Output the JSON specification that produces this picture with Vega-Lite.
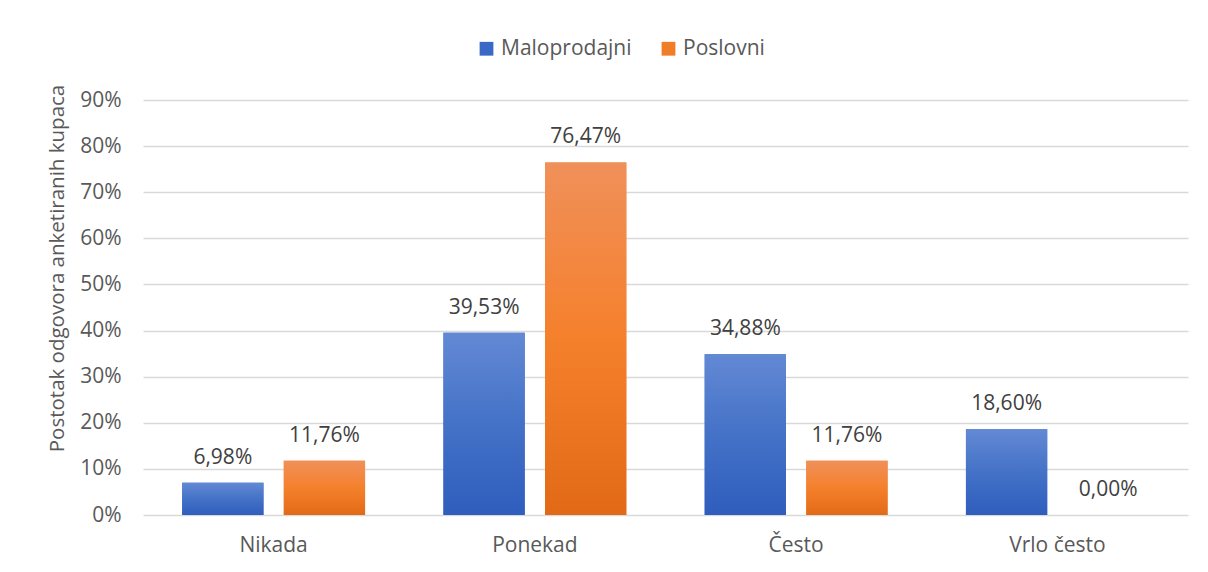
{
  "$schema": "https://vega.github.io/schema/vega-lite/v6.json",
  "autosize": {"type": "none"},
  "padding": {"left": 143, "top": 100, "right": 20, "bottom": 57},
  "width": 1045,
  "height": 415,
  "background": "white",
  "config": {
    "font": "Open Sans",
    "view": {"stroke": null},
    "locale": {"number": {"decimal": ",", "thousands": ".", "grouping": [3], "currency": ["", " €"]}}
  },
  "data": {
    "values": [
      {"kategorija": "Nikada", "skupina": "Maloprodajni", "udio": 0.0698},
      {"kategorija": "Nikada", "skupina": "Poslovni", "udio": 0.1176},
      {"kategorija": "Ponekad", "skupina": "Maloprodajni", "udio": 0.3953},
      {"kategorija": "Ponekad", "skupina": "Poslovni", "udio": 0.7647},
      {"kategorija": "Često", "skupina": "Maloprodajni", "udio": 0.3488},
      {"kategorija": "Često", "skupina": "Poslovni", "udio": 0.1176},
      {"kategorija": "Vrlo često", "skupina": "Maloprodajni", "udio": 0.186},
      {"kategorija": "Vrlo često", "skupina": "Poslovni", "udio": 0.0}
    ]
  },
  "encoding": {
    "x": {
      "field": "kategorija", "type": "nominal",
      "sort": ["Nikada", "Ponekad", "Često", "Vrlo često"],
      "scale": {"paddingInner": 0.3, "paddingOuter": 0.15},
      "axis": {"title": null, "labelAngle": 0, "ticks": false, "domain": false,
               "labelFontSize": 21, "labelColor": "#595959", "labelPadding": 19}
    },
    "xOffset": {"field": "skupina", "type": "nominal", "scale": {"paddingInner": 0.2}},
    "y": {
      "field": "udio", "type": "quantitative",
      "scale": {"domain": [0, 0.9], "nice": false},
      "axis": {"title": "Postotak odgovora anketiranih kupaca", "format": ".0%",
               "values": [0, 0.1, 0.2, 0.3, 0.4, 0.5, 0.6, 0.7, 0.8, 0.9],
               "ticks": false, "domain": false, "gridColor": "#d9d9d9", "gridWidth": 1.3,
               "labelFontSize": 21, "labelColor": "#595959", "labelPadding": 22,
               "titleFontSize": 20.5, "titleFontWeight": "normal", "titleColor": "#595959",
               "titleX": -76, "titleY": 168}
    }
  },
  "layer": [
    {
      "mark": {"type": "bar"},
      "encoding": {
        "color": {
          "field": "skupina", "type": "nominal",
          "scale": {"domain": ["Maloprodajni", "Poslovni"], "range": ["#3a68c6", "#f07d28"]},
          "legend": {"title": null, "orient": "none", "direction": "horizontal",
                     "legendX": 333, "legendY": -62, "symbolType": "square", "symbolSize": 190,
                     "symbolStrokeWidth": 0, "labelFontSize": 21, "labelColor": "#595959",
                     "labelOffset": 4, "columnPadding": 26}
        }
      }
    },
    {
      "transform": [{"filter": "datum.skupina === 'Maloprodajni'"}],
      "mark": {"type": "bar", "fill": {"gradient": "linear", "x1": 0, "y1": 0, "x2": 0, "y2": 1,
        "stops": [{"offset": 0, "color": "#6389d4"}, {"offset": 0.5, "color": "#4472c7"}, {"offset": 1, "color": "#2e5dbd"}]}}
    },
    {
      "transform": [{"filter": "datum.skupina === 'Poslovni'"}],
      "mark": {"type": "bar", "fill": {"gradient": "linear", "x1": 0, "y1": 0, "x2": 0, "y2": 1,
        "stops": [{"offset": 0, "color": "#f0905a"}, {"offset": 0.5, "color": "#f5802c"}, {"offset": 1, "color": "#e26a17"}]}}
    },
    {
      "mark": {"type": "text", "baseline": "middle", "dy": -25, "fontSize": 21, "color": "#404040"},
      "encoding": {"text": {"field": "udio", "type": "quantitative", "format": ".2%"}}
    }
  ]
}
